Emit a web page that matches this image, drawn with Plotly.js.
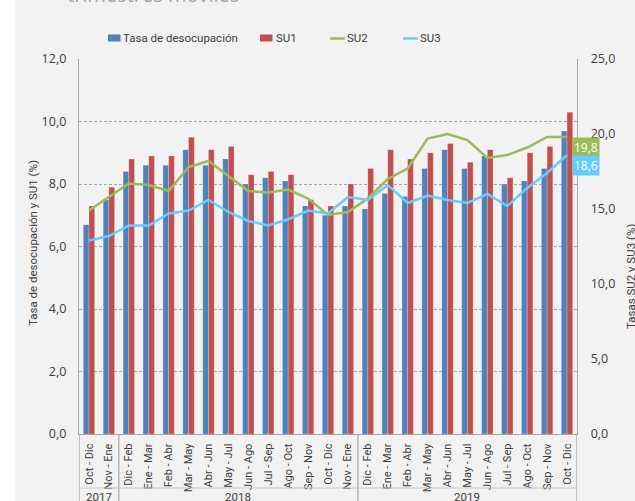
<!DOCTYPE html>
<html>
<head>
<meta charset="utf-8">
<script src="https://cdn.plot.ly/plotly-3.0.1.min.js"></script>
<style>
  html, body { margin: 0; padding: 0; background: #ffffff; }
  #chart { position: absolute; left: 15px; top: 0; width: 620px; height: 501px; }
</style>
</head>
<body>
<div id="chart"></div>
<script>
// ---- Data ----
const years = ['2017','2017',
  '2018','2018','2018','2018','2018','2018','2018','2018','2018','2018','2018','2018',
  '2019','2019','2019','2019','2019','2019','2019','2019','2019','2019','2019'];
const periods = ['Oct - Dic','Nov - Ene',
  'Dic - Feb','Ene - Mar','Feb - Abr','Mar - May','Abr - Jun','May - Jul','Jun - Ago','Jul - Sep','Ago - Oct','Sep - Nov','Oct - Dic','Nov - Ene',
  'Dic - Feb','Ene - Mar','Feb - Abr','Mar - May','Abr - Jun','May - Jul','Jun - Ago','Jul - Sep','Ago - Oct','Sep - Nov','Oct - Dic'];
const desocupacion = [6.7,7.5,8.4,8.6,8.6,9.1,8.6,8.8,8.0,8.2,8.1,7.3,7.0,7.3,7.2,7.7,7.6,8.5,9.1,8.5,8.9,8.0,8.1,8.5,9.7];
const su1 = [7.3,7.9,8.8,8.9,8.9,9.5,9.1,9.2,8.3,8.4,8.3,7.5,7.3,8.0,8.5,9.1,8.8,9.0,9.3,8.7,9.1,8.2,9.0,9.2,10.3];
const su2 = [14.9,15.8,16.7,16.6,16.2,17.8,18.2,17.2,16.2,16.1,16.3,15.7,14.6,14.8,15.7,17.0,17.7,19.7,20.0,19.6,18.4,18.6,19.1,19.8,19.8];
const su3 = [12.9,13.2,13.9,13.9,14.7,14.9,15.6,14.8,14.2,13.9,14.3,14.9,14.7,15.8,15.6,16.6,15.4,15.9,15.6,15.4,16.0,15.2,16.4,17.4,18.6];
const seriesNames = ['Tasa de desocupación','SU1','SU2','SU3'];
const yLeftTitle = 'Tasa de desocupación y SU1 (%)';
const yRightTitle = 'Tasas SU2 y SU3 (%)';
const titleText = 'trimestres móviles';

// ---- Style ----
const C = { blue:'#4f81bd', red:'#c0504d', green:'#9bbb59', cyan:'#66ccff',
            grid:'#a6a6a6', axis:'#a6a6a6', text:'#404040' };
const COND = 'Roboto, "Liberation Sans", sans-serif';
const OPEN = '"Open Sans", "Noto Sans", sans-serif';

// plot-area geometry inside the div (div starts 15px from page left)
const OFF = 15, L = 64, T = 59, W = 498, H = 375;
const fx = px => (px - OFF - L) / W;
const fy = py => (T + H - py) / H;

const idx = periods.map((_, i) => i);
const fmt = v => v.toFixed(1).replace('.', ',');

const traces = [
  { type:'bar', name:seriesNames[0], x:idx, y:desocupacion, marker:{color:C.blue, line:{color:'rgba(255,255,255,0.35)', width:0.6}}, yaxis:'y' },
  { type:'bar', name:seriesNames[1], x:idx, y:su1, marker:{color:C.red, line:{color:'rgba(255,255,255,0.35)', width:0.6}}, yaxis:'y' },
  { type:'scatter', mode:'lines', name:seriesNames[2], x:idx, y:su2, line:{color:C.green, width:2.5}, yaxis:'y2' },
  { type:'scatter', mode:'lines', name:seriesNames[3], x:idx, y:su3, line:{color:C.cyan, width:2.5}, yaxis:'y2' }
];

// dividers between year groups
const shapes = [];
const annotations = [];
const groups = [];
years.forEach((y, i) => {
  if (!groups.length || groups[groups.length-1].year !== y) groups.push({year:y, start:i, end:i});
  else groups[groups.length-1].end = i;
});
const bounds = [-0.5].concat(groups.map(g => g.end + 0.5));
bounds.forEach(b => shapes.push({type:'line', xref:'x', yref:'paper', x0:b, x1:b, y0:0, y1:fy(505),
  line:{color:C.axis, width:1.2}}));
shapes.push({type:'line', xref:'x', yref:'paper', x0:-0.5, x1:periods.length-0.5, y0:fy(488), y1:fy(488),
  line:{color:'#c8c8c8', width:1}});
groups.forEach(g => annotations.push({xref:'x', yref:'paper', x:(g.start+g.end)/2, y:fy(496.5),
  xanchor:'center', yanchor:'middle', text:g.year, showarrow:false, font:{family:COND, size:11.5, color:C.text}}));

// custom legend
const legendItems = [
  {kind:'rect', color:C.blue, x0:108, x1:120.5, tx:121, name:seriesNames[0]},
  {kind:'rect', color:C.red, x0:260, x1:272.5, tx:274, name:seriesNames[1]},
  {kind:'line', color:C.green, x0:330, x1:345, tx:345, name:seriesNames[2]},
  {kind:'line', color:C.cyan, x0:403, x1:418, tx:417.5, name:seriesNames[3]}
];
legendItems.forEach(it => {
  if (it.kind === 'rect') shapes.push({type:'rect', xref:'paper', yref:'paper', x0:fx(it.x0), x1:fx(it.x1),
    y0:fy(41.5), y1:fy(34.5), fillcolor:it.color, line:{width:0}});
  else shapes.push({type:'line', xref:'paper', yref:'paper', x0:fx(it.x0), x1:fx(it.x1),
    y0:fy(38.5), y1:fy(38.5), line:{color:it.color, width:2.5}});
  annotations.push({xref:'paper', yref:'paper', x:fx(it.tx), y:fy(37.5), xanchor:'left', yanchor:'middle',
    text:it.name, showarrow:false, font:{family:COND, size:11.5, color:C.text}});
});

// axis titles
annotations.push({xref:'paper', yref:'paper', x:fx(33), y:fy(243), textangle:-90, xanchor:'center', yanchor:'middle',
  text:yLeftTitle, showarrow:false, font:{family:COND, size:11.5, color:C.text}});
annotations.push({xref:'paper', yref:'paper', x:fx(631), y:fy(277), textangle:-90, xanchor:'center', yanchor:'middle',
  text:yRightTitle, showarrow:false, font:{family:COND, size:11.5, color:C.text}});

// clipped title at top
annotations.push({xref:'paper', yref:'paper', x:fx(65), y:fy(9.5), xanchor:'left', yanchor:'bottom',
  text:titleText, showarrow:false, font:{family:OPEN, size:20, color:'#a6a6a6'}});

// end-point labels
const last = periods.length - 1;
[[su2, C.green], [su3, C.cyan]].forEach(([s, col]) => annotations.push({
  xref:'x', yref:'y2', x:last, y:s[last], xanchor:'left', yanchor:'top', xshift:5,
  text:fmt(s[last]), showarrow:false, bgcolor:col, borderpad:1,
  font:{family:OPEN, size:12, color:'#ffffff'}}));

const layout = {
  width:620, height:501,
  margin:{l:L, r:620-L-W, t:T, b:501-T-H, pad:0},
  paper_bgcolor:'#f2f2f2', plot_bgcolor:'#f2f2f2',
  separators:',.',
  showlegend:false,
  barmode:'group', bargap:0.43, bargroupgap:0,
  font:{family:OPEN, color:C.text},
  xaxis:{ range:[-0.5, periods.length-0.5], tickmode:'array', tickvals:idx, ticktext:periods,
    tickangle:-90, showgrid:false, zeroline:false, showline:true, linecolor:C.axis, linewidth:1.2,
    ticks:'', ticklabelstandoff:4, tickfont:{family:COND, size:11, color:C.text}, fixedrange:true },
  yaxis:{ range:[0,12], dtick:2, tickformat:'.1f', showgrid:true, gridcolor:C.grid, griddash:'3px,2px', gridwidth:1,
    zeroline:false, showline:true, linecolor:C.axis, linewidth:1.2, ticks:'', ticklabelstandoff:9,
    tickfont:{family:OPEN, size:12.5, color:C.text} },
  yaxis2:{ range:[0,25], dtick:5, tickformat:'.1f', overlaying:'y', side:'right', showgrid:false,
    zeroline:false, showline:true, linecolor:C.axis, linewidth:1.2, ticks:'', ticklabelstandoff:10,
    tickfont:{family:OPEN, size:12.5, color:C.text} },
  shapes:shapes, annotations:annotations
};

Plotly.newPlot('chart', traces, layout, {displayModeBar:false, staticPlot:true});
</script>
</body>
</html>
